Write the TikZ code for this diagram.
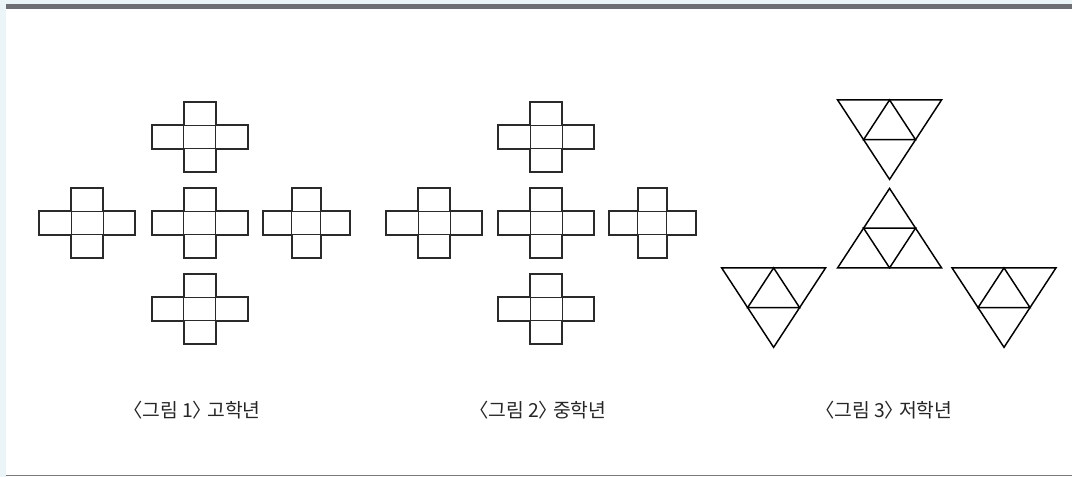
\documentclass[tikz,border=0pt]{standalone}
\usepackage{fontspec}
\newfontfamily\krfont[RawFeature=+palt]{Noto Sans CJK KR}
\definecolor{bargrey}{HTML}{6E6F72}
\definecolor{paleblue}{HTML}{EBF4F6}
\definecolor{inkgrey}{HTML}{2A2A2A}
\definecolor{rulegrey}{HTML}{7A7A7A}
\usetikzlibrary{positioning}

\begin{document}
\begin{tikzpicture}[x=0.75pt, y=-0.75pt,
    outer/.style={draw=inkgrey, line width=1.5pt, line join=miter},
    inner/.style={draw=inkgrey, line width=0.7pt},
    tri/.style={draw=black, line width=1.1pt, line join=miter},
    figlabel/.style={font=\krfont\fontsize{14.5}{17}\selectfont, text=black!85},
    pics/crossnet/.style={code={
      \draw[outer] (-16,-35.25) -- (16,-35.25) -- (16,-11.75) -- (48,-11.75)
        -- (48,11.75) -- (16,11.75) -- (16,35.25) -- (-16,35.25) -- (-16,11.75)
        -- (-48,11.75) -- (-48,-11.75) -- (-16,-11.75) -- cycle;
      \draw[inner] (-16,-11.75) rectangle (16,11.75);
    }},
    pics/trinet/.style={code={
      \draw[tri] (-52,0) -- (52,0) -- (0,79.5) -- cycle;
      \draw[tri] (-26,39.75) -- (26,39.75) -- (0,0) -- cycle;
    }}
  ]
    % frame
    \fill[paleblue] (0,0) rectangle (1073,477);
    \fill[white] (6,9.5) rectangle (1073,477);
    \fill[bargrey] (6,4) rectangle (1073,9.5);
    \draw[rulegrey, line width=0.8pt] (6,476) -- (1073,476);
    \useasboundingbox (0,0) rectangle (1073,477);

    % <그림 1>
    \pic (c1t) at (200,137) {crossnet};
    \pic (c1l) at (87.5,223) {crossnet};
    \pic (c1m) at (200,223) {crossnet};
    \pic[xscale=0.906] (c1r) at (306.5,223) {crossnet};
    \pic (c1b) at (200,309) {crossnet};

    % <그림 2>
    \pic (c2t) at (546.5,137) {crossnet};
    \pic (c2l) at (434.5,223) {crossnet};
    \pic (c2m) at (546.5,223) {crossnet};
    \pic[xscale=0.906] (c2r) at (652.5,223) {crossnet};
    \pic (c2b) at (546.5,309) {crossnet};

    % <그림 3>
    \pic (t3t) at (890,100) {trinet};
    \pic[yscale=-1] (t3m) at (890,268) {trinet};
    \pic (t3l) at (774,268) {trinet};
    \pic (t3r) at (1004.5,268) {trinet};

    \node[figlabel] (lab1) at (197,410) {〈그림 1〉 고학년};
    \node[figlabel] (lab2) at (543,410) {〈그림 2〉 중학년};
    \node[figlabel] (lab3) at (889,410) {〈그림 3〉 저학년};
\end{tikzpicture}
\end{document}
